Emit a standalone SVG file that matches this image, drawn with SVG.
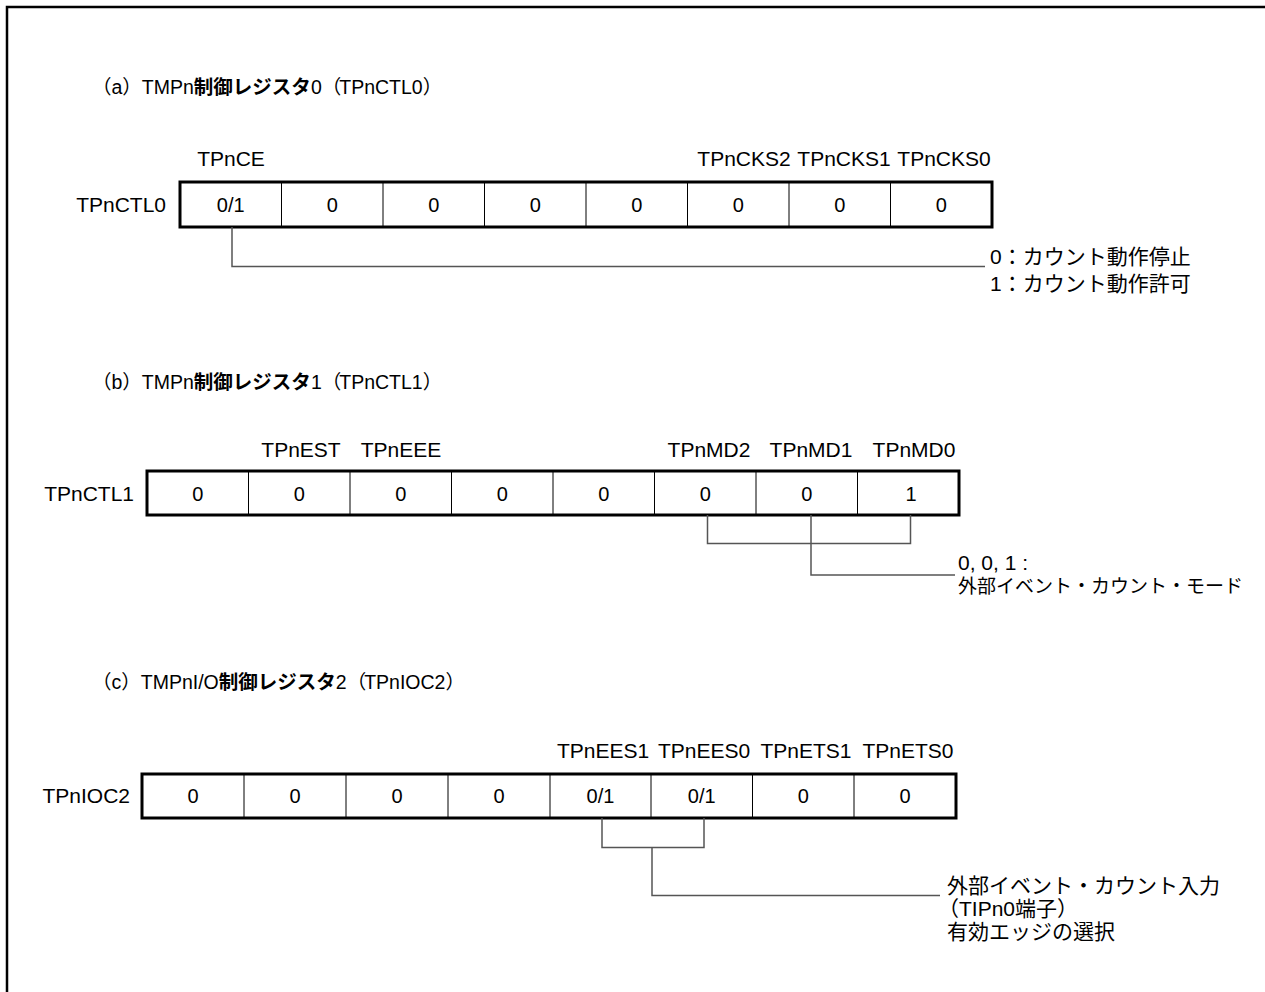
<svg xmlns="http://www.w3.org/2000/svg" width="1265" height="992" viewBox="0 0 1265 992">
<style>
text{font-family:"Liberation Sans","Noto Sans CJK JP",sans-serif;fill:#000}
.t{font-size:19.5px}
.b{font-weight:bold}
.l{font-size:21px}
.m{font-size:19px}
.c{font-size:20px;text-anchor:middle}
.n{font-size:21px;text-anchor:middle}
.r{font-size:21px;text-anchor:end}
.box{fill:#fff;stroke:#000;stroke-width:3}
.div{stroke:#000;stroke-width:1}
.con{fill:none;stroke:#555;stroke-width:1.5}
</style>
<rect width="1265" height="992" fill="#fff"/>
<path d="M7 1000 V7 H1270" fill="none" stroke="#000" stroke-width="2.5"/>

<g id="titleA"><text class="t" x="92" y="94">（a）TMPn<tspan class="b">制御レジスタ</tspan>0（<tspan dx="-2">TPnCTL0</tspan>）</text></g>
<g id="titleB"><text class="t" x="92" y="389">（b）TMPn<tspan class="b">制御レジスタ</tspan>1（<tspan dx="-2">TPnCTL1</tspan>）</text></g>
<g id="titleC"><text class="t" x="92" y="689">（c）TMPnI/O<tspan class="b">制御レジスタ</tspan>2（<tspan dx="-2">TPnIOC2</tspan>）</text></g>

<g id="regA">
<text class="r" x="166" y="212">TPnCTL0</text>
<rect class="box" x="180" y="182" width="812" height="45"/>
<path class="div" d="M281.5 182V227M383 182V227M484.5 182V227M586 182V227M687.5 182V227M789 182V227M890.5 182V227"/>
<text class="c" x="230.75" y="212">0/1</text><text class="c" x="332.25" y="212">0</text><text class="c" x="433.75" y="212">0</text><text class="c" x="535.25" y="212">0</text><text class="c" x="636.75" y="212">0</text><text class="c" x="738.25" y="212">0</text><text class="c" x="839.75" y="212">0</text><text class="c" x="941.25" y="212">0</text>
<text class="n" x="231" y="166">TPnCE</text>
<text class="n" x="744" y="166">TPnCKS2</text><text class="n" x="844" y="166">TPnCKS1</text><text class="n" x="944" y="166">TPnCKS0</text>
</g>
<g id="descA">
<text class="l" x="990" y="264">0：カウント動作停止</text>
<text class="l" x="990" y="291">1：カウント動作許可</text>
</g>

<g id="regB">
<text class="r" x="134" y="501">TPnCTL1</text>
<rect class="box" x="147" y="471" width="812" height="44"/>
<path class="div" d="M248.5 471V515M350 471V515M451.5 471V515M553 471V515M654.5 471V515M756 471V515M857.5 471V515"/>
<text class="c" x="197.75" y="501">0</text><text class="c" x="299.25" y="501">0</text><text class="c" x="400.75" y="501">0</text><text class="c" x="502.25" y="501">0</text><text class="c" x="603.75" y="501">0</text><text class="c" x="705.25" y="501">0</text><text class="c" x="806.75" y="501">0</text><text class="c" x="911" y="501">1</text>
<text class="n" x="301" y="457">TPnEST</text><text class="n" x="401" y="457">TPnEEE</text>
<text class="n" x="709" y="457">TPnMD2</text><text class="n" x="811" y="457">TPnMD1</text><text class="n" x="914" y="457">TPnMD0</text>
</g>
<g id="descB">
<text class="l" x="958" y="570">0, 0, 1 :</text>
<text class="m" x="958" y="593">外部イベント・カウント・モード</text>
</g>

<g id="regC">
<text class="r" x="130" y="803">TPnIOC2</text>
<rect class="box" x="142" y="774" width="814" height="44"/>
<path class="div" d="M244 774V818M346 774V818M448 774V818M550 774V818M651 774V818M752.5 774V818M854 774V818"/>
<text class="c" x="193" y="803">0</text><text class="c" x="295" y="803">0</text><text class="c" x="397" y="803">0</text><text class="c" x="499" y="803">0</text><text class="c" x="600.5" y="803">0/1</text><text class="c" x="701.75" y="803">0/1</text><text class="c" x="803.25" y="803">0</text><text class="c" x="905" y="803">0</text>
<text class="n" x="603" y="758">TPnEES1</text><text class="n" x="704" y="758">TPnEES0</text><text class="n" x="806" y="758">TPnETS1</text><text class="n" x="908" y="758">TPnETS0</text>
</g>
<g id="descC">
<text class="l" x="947" y="893">外部イベント・カウント入力</text>
<text class="l" x="938" y="916">（TIPn0端子）</text>
<text class="l" x="947" y="939">有効エッジの選択</text>
</g>

<g id="connectors">
<path class="con" d="M232 227V266.5H985"/>
<path class="con" d="M707.5 515V543.5H910.5V515"/>
<path class="con" d="M811 515V575H955"/>
<path class="con" d="M602 818V847.5H704V818"/>
<path class="con" d="M652 847.5V895.5H940"/>
</g>
</svg>
